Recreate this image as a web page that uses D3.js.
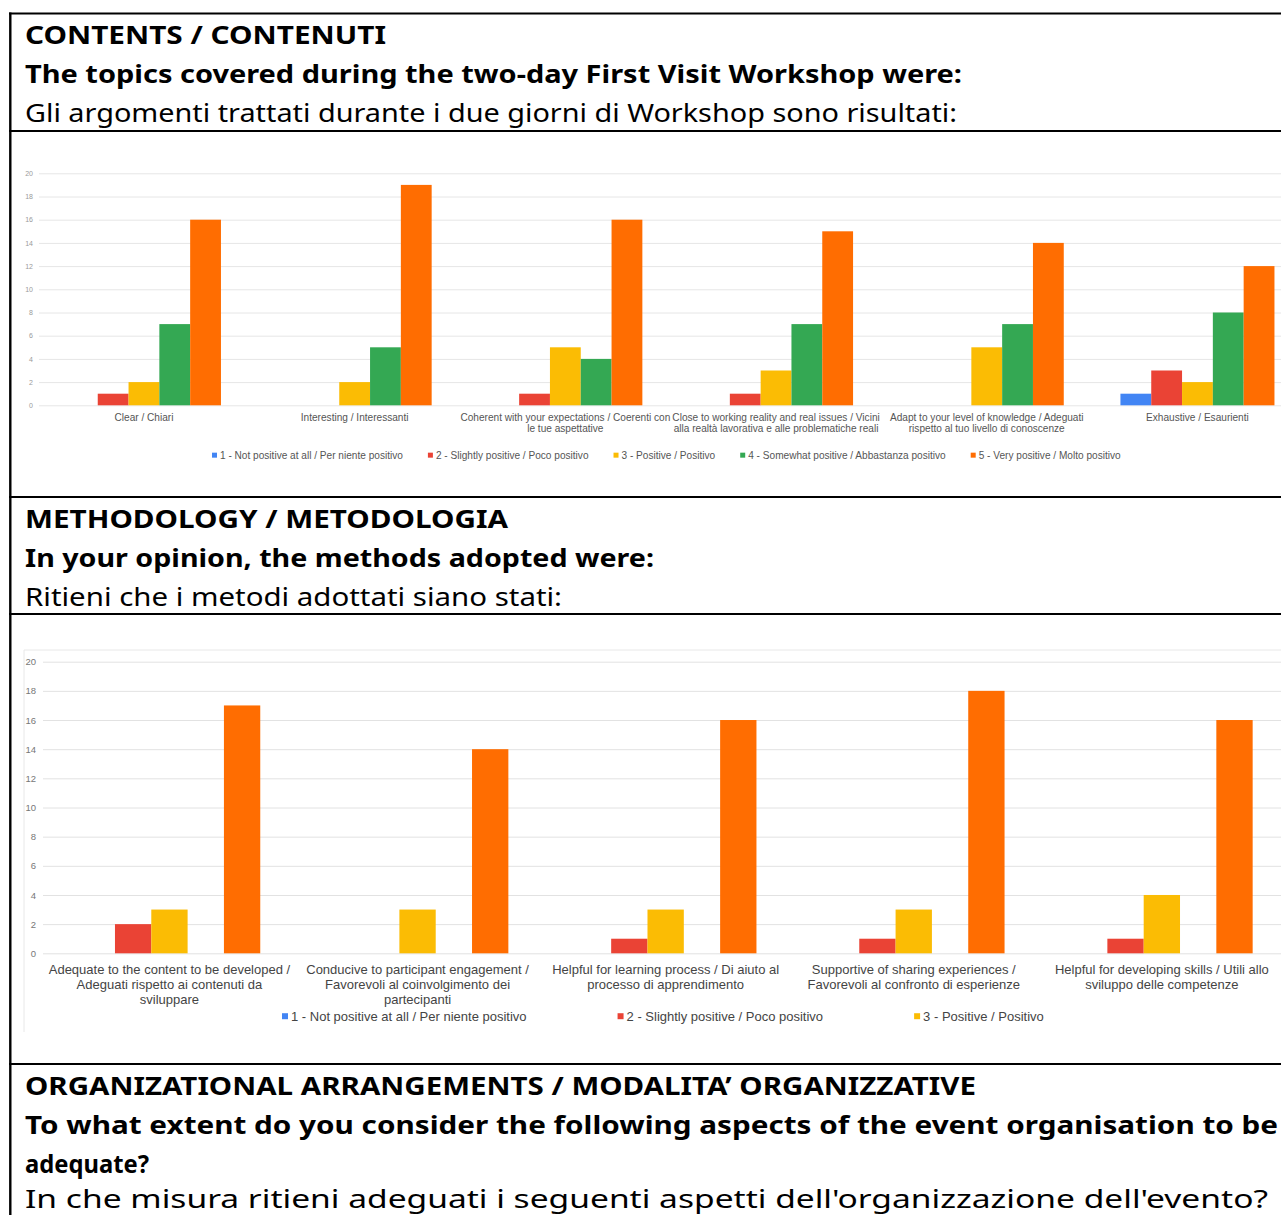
<!DOCTYPE html>
<html><head><meta charset="utf-8">
<script src="https://cdn.jsdelivr.net/npm/d3@7"></script>
<style>html,body{margin:0;padding:0;background:#fff;overflow:hidden;} svg{display:block;}</style>
</head><body>
<svg id="page" width="1281" height="1215"></svg>
<script>
// ---------- DATA ----------
const seriesNames = [
  "1 - Not positive at all / Per niente positivo",
  "2 - Slightly positive / Poco positivo",
  "3 - Positive / Positivo",
  "4 - Somewhat positive / Abbastanza positivo",
  "5 - Very positive / Molto positivo"
];
const yTickValues = [0, 2, 4, 6, 8, 10, 12, 14, 16, 18, 20];

const contentCategories = [
  ["Clear / Chiari"],
  ["Interesting / Interessanti"],
  ["Coherent with your expectations / Coerenti con", "le tue aspettative"],
  ["Close to working reality and real issues / Vicini", "alla realtà lavorativa e alle problematiche reali"],
  ["Adapt to your level of knowledge / Adeguati", "rispetto al tuo livello di conoscenze"],
  ["Exhaustive / Esaurienti"]
];
const contentValues = [
  [0, 1, 2, 7, 16],
  [0, 0, 2, 5, 19],
  [0, 1, 5, 4, 16],
  [0, 1, 3, 7, 15],
  [0, 0, 5, 7, 14],
  [1, 3, 2, 8, 12]
];

const methodCategories = [
  ["Adequate to the content to be developed /", "Adeguati rispetto ai contenuti da", "sviluppare"],
  ["Conducive to participant engagement /", "Favorevoli al coinvolgimento dei", "partecipanti"],
  ["Helpful for learning process / Di aiuto al", "processo di apprendimento"],
  ["Supportive of sharing experiences /", "Favorevoli al confronto di esperienze"],
  ["Helpful for developing skills / Utili allo", "sviluppo delle competenze"]
];
const methodValues = [
  [0, 2, 3, 0, 17],
  [0, 0, 3, 0, 14],
  [0, 1, 3, 0, 16],
  [0, 1, 3, 0, 18],
  [0, 1, 4, 0, 16]
];
const methodLegendShown = 3; // the legend of the second chart is cropped after 3 items

const sectionHeaders = [
  [["CONTENTS / CONTENUTI", 700], ["The topics covered during the two-day First Visit Workshop were:", 700], ["Gli argomenti trattati durante i due giorni di Workshop sono risultati:", 400]],
  [["METHODOLOGY / METODOLOGIA", 700], ["In your opinion, the methods adopted were:", 700], ["Ritieni che i metodi adottati siano stati:", 400]],
  [["ORGANIZATIONAL ARRANGEMENTS / MODALITA’ ORGANIZZATIVE", 700], ["To what extent do you consider the following aspects of the event organisation to be", 700], ["adequate?", 700], ["In che misura ritieni adeguati i seguenti aspetti dell'organizzazione dell'evento?", 400]]
];

// ---------- STYLE / LAYOUT ----------
const colors = ["#4285F4", "#EA4335", "#FBBC04", "#34A853", "#FF6D01"];
const headerWidths = [[361, 937, 932], [483, 629, 537], [951, 1253, 124, 1243]];
const sectionTops = [13.5, 497, 1064];
const sectionBottoms = [131, 614];
const W = 1281, H = 1215;
const svg = d3.select("#page");
svg.append("rect").attr("width", W).attr("height", H).attr("fill", "#fff");

// table borders
const rules = [...sectionTops, ...sectionBottoms];
svg.selectAll("line.rule").data(rules).join("line").attr("class", "rule")
  .attr("x1", 9).attr("x2", W).attr("y1", d => d).attr("y2", d => d)
  .attr("stroke", "#000").attr("stroke-width", 2);
svg.append("line").attr("x1", 10.3).attr("x2", 10.3).attr("y1", 12.5).attr("y2", H)
  .attr("stroke", "#000").attr("stroke-width", 2.4);

// headers
sectionHeaders.forEach((lines, si) => {
  lines.forEach((ln, li) => {
    const last = si === 2 && li === lines.length - 1;
    svg.append("text")
      .attr("x", 25).attr("y", sectionTops[si] + 30.5 + li * 39 - (last ? 4 : 0))
      .attr("font-family", "'Noto Sans', 'Open Sans', sans-serif")
      .attr("font-size", 25).attr("font-weight", ln[1]).attr("fill", "#000")
      .attr("textLength", headerWidths[si][li]).attr("lengthAdjust", "spacingAndGlyphs")
      .text(ln[0]);
  });
});

function drawChart(cfg) {
  const g = svg.append("g");
  const x0 = d3.scaleBand().domain(d3.range(cfg.categories.length))
    .range(cfg.xRange).paddingInner(cfg.pad).paddingOuter(cfg.pad / 2);
  const x1 = d3.scaleBand().domain(d3.range(seriesNames.length)).range([0, x0.bandwidth()]);
  const y = d3.scaleLinear().domain([0, 20]).range(cfg.yRange);

  if (cfg.frame) {
    g.append("line").attr("x1", cfg.frame[0]).attr("x2", W).attr("y1", cfg.frame[1]).attr("y2", cfg.frame[1])
      .attr("stroke", "#e8e8e8").attr("stroke-width", 1);
    g.append("line").attr("x1", cfg.frame[0]).attr("x2", cfg.frame[0]).attr("y1", cfg.frame[1]).attr("y2", cfg.frame[2])
      .attr("stroke", "#e8e8e8").attr("stroke-width", 1);
  }

  // gridlines + y tick labels via axis
  const yAxis = d3.axisLeft(y).tickValues(yTickValues).tickSize(-(W - cfg.gridX)).tickPadding(cfg.tickPad);
  const ya = g.append("g").attr("transform", `translate(${cfg.gridX},0)`).call(yAxis);
  ya.select(".domain").remove();
  ya.selectAll(".tick line").attr("stroke", cfg.gridColor).attr("stroke-width", 1);
  ya.selectAll(".tick text").attr("font-family", "'Liberation Sans', Arial, sans-serif")
    .attr("font-size", cfg.tickFont).attr("fill", cfg.tickColor);

  // bars
  const groups = g.selectAll("g.grp").data(cfg.values).join("g").attr("class", "grp")
    .attr("transform", (d, i) => `translate(${x0(i)},0)`);
  groups.selectAll("rect").data(d => d.map((v, s) => ({ v, s }))).join("rect")
    .attr("x", d => x1(d.s)).attr("width", x1.bandwidth())
    .attr("y", d => y(d.v)).attr("height", d => y(0) - y(d.v))
    .attr("fill", d => colors[d.s]);

  // category labels
  cfg.categories.forEach((lines, i) => {
    const cx = x0(i) + x0.bandwidth() / 2;
    lines.forEach((t, li) => {
      g.append("text").attr("x", cx).attr("y", cfg.labelY + li * cfg.labelLH)
        .attr("text-anchor", "middle")
        .attr("font-family", "'Liberation Sans', Arial, sans-serif")
        .attr("font-size", cfg.labelFont).attr("fill", cfg.labelColor).text(t);
    });
  });

  // legend
  let lx = cfg.legendX;
  seriesNames.slice(0, cfg.legendCount).forEach((name, s) => {
    g.append("rect").attr("x", lx).attr("y", cfg.legendY - cfg.legendSq / 2 - cfg.legendFont * 0.33)
      .attr("width", cfg.legendSq).attr("height", cfg.legendSq).attr("fill", colors[s]);
    const t = g.append("text").attr("x", lx + cfg.legendSq + cfg.legendTextGap).attr("y", cfg.legendY)
      .attr("font-family", "'Liberation Sans', Arial, sans-serif")
      .attr("font-size", cfg.legendFont).attr("fill", cfg.labelColor).text(name);
    lx += cfg.legendSq + cfg.legendTextGap + t.node().getComputedTextLength() + cfg.legendGap;
  });
}

drawChart({
  categories: contentCategories, values: contentValues,
  xRange: [38.6, 1302.8], pad: 0.269, yRange: [405.3, 173.3],
  gridX: 39, gridColor: "#e6e6e6", tickPad: 6, tickFont: 7, tickColor: "#9a9a9a",
  labelY: 421, labelLH: 11, labelFont: 10.1, labelColor: "#555",
  legendX: 212, legendY: 458.5, legendSq: 5, legendTextGap: 3, legendGap: 25, legendFont: 10.1,
  legendCount: 5
});

drawChart({
  categories: methodCategories, values: methodValues,
  xRange: [45.4, 1285.9], pad: 0.268, yRange: [953.3, 661.7],
  gridX: 43, gridColor: "#e2e2e2", tickPad: 7, tickFont: 9.5, tickColor: "#777",
  labelY: 973.5, labelLH: 15, labelFont: 13, labelColor: "#444",
  legendX: 282, legendY: 1020.5, legendSq: 6, legendTextGap: 3, legendGap: 91, legendFont: 13,
  legendCount: methodLegendShown,
  frame: [24, 650, 1032]
});
</script>
</body></html>
